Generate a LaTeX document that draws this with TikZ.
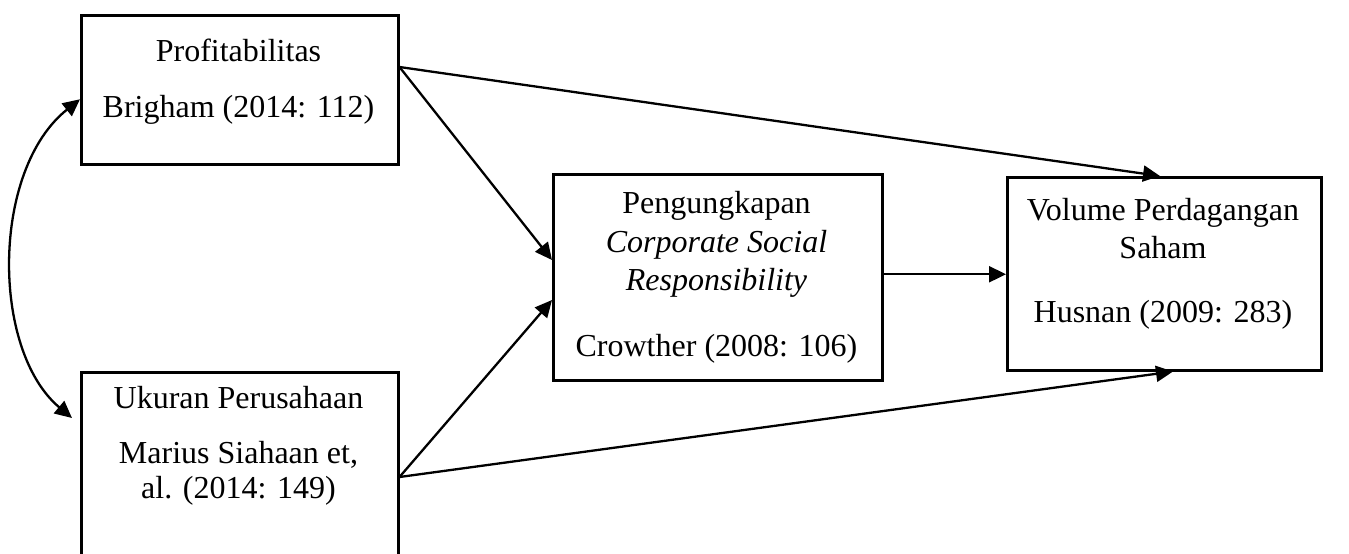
\documentclass[tikz,border=0pt]{standalone}
\usepackage{fontspec}
\setmainfont{Liberation Serif}
\usetikzlibrary{arrows.meta,calc}
\begin{document}
\begin{tikzpicture}[x=0.5pt,y=-0.5pt,
  box/.style={draw,line width=1.25pt,inner sep=0pt,anchor=north west},
  txt/.style={anchor=base,inner sep=0pt,font=\fontsize{16}{19.5}\selectfont},
  arr/.style={line width=1.15pt,-{Triangle[length=8.5pt,width=8pt]}},
  darr/.style={line width=1.15pt,{Triangle[length=8.5pt,width=8pt]}-{Triangle[length=8.5pt,width=8pt]}}]
\useasboundingbox (0,0) rectangle (1349,553);
% boxes
\node[box,minimum width=158.5pt,minimum height=74.5pt] (p) at (80,14) {};
\node[box,minimum width=158.5pt,minimum height=130pt] (u) at (80,371) {};
\node[box,minimum width=164.5pt,minimum height=103pt] (c) at (552,173) {};
\node[box,minimum width=157pt,minimum height=96.5pt] (v) at (1006,176) {};
% texts
\node[txt] (p1) at (238.5,61) {Profitabilitas};
\node[txt] (p2) at (238.5,117) {Brigham (2014: 112)};
\node[txt] (u1) at (238.5,408) {Ukuran Perusahaan};
\node[txt] (u2) at (238.5,463) {Marius Siahaan et,};
\node[txt] (u3) at (238.5,498) {al. (2014: 149)};
\node[txt] (c1) at (716.5,213) {Pengungkapan};
\node[txt] (c2) at (716.5,252) {\itshape Corporate Social};
\node[txt] (c3) at (716.5,290) {\itshape Responsibility};
\node[txt] (c4) at (716.5,356) {Crowther (2008: 106)};
\node[txt] (v1) at (1163,220) {Volume Perdagangan};
\node[txt] (v2) at (1163,258) {Saham};
\node[txt] (v3) at (1163,322) {Husnan (2009: 283)};
% connectors
\coordinate (ps) at ($(p.north east)+(0,53)$);
\coordinate (us) at ($(u.north east)+(0,106)$);
\coordinate (ce) at ($(c.east)+(0,-3)$);
\draw[arr] (ps) -- ($(v.north west)+(154,0)$);
\draw[arr] (ps) -- ($(c.north west)+(0,87)$);
\draw[arr] (us) -- ($(c.north west)+(0,127)$);
\draw[arr] (us) -- ($(v.south west)+(167,0)$);
\draw[arr] (ce) -- (ce -| v.west);
\draw[darr] ($(p.west)+(0,9.5)$) .. controls (-9,170) and (-9,350) .. ($(u.north west)+(-8,47)$);
\end{tikzpicture}
\end{document}
